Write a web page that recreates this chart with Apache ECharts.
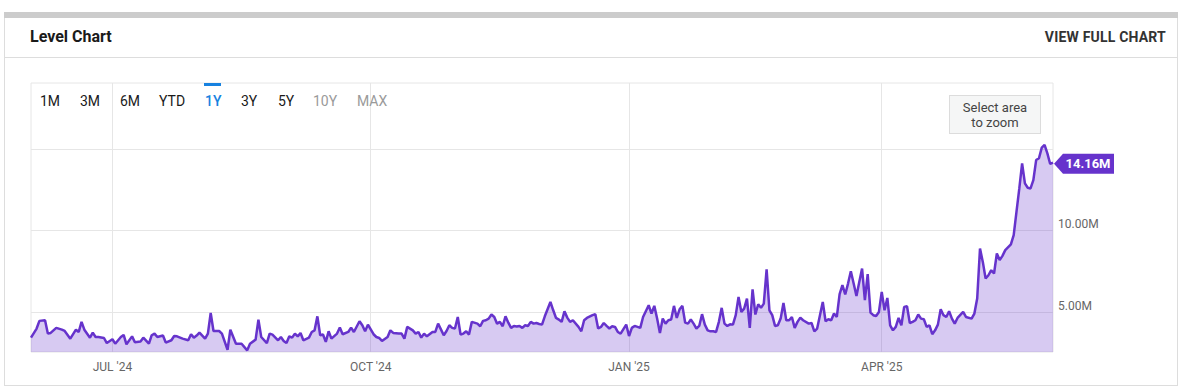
<!DOCTYPE html>
<html>
<head>
<meta charset="utf-8">
<script src="https://cdn.jsdelivr.net/npm/echarts@6/dist/echarts.min.js"></script>
<style>
html,body{margin:0;padding:0;background:#fff;}
body{width:1182px;height:387px;position:relative;overflow:hidden;font-family:Roboto,"DejaVu Sans",sans-serif;}
#chart{position:absolute;left:0;top:0;width:1182px;height:387px;z-index:1;}
.topbar{position:absolute;left:4px;top:12px;width:1174px;height:6px;background:#cccccc;z-index:2;}
.card{position:absolute;left:4px;top:18px;width:1172px;height:367px;border:1px solid #dddddd;border-top:none;z-index:0;}
.divider{position:absolute;left:4px;top:57px;width:1174px;height:1px;background:#dddddd;z-index:2;}
.title{position:absolute;left:30px;top:27px;font-size:16px;font-weight:700;color:#1a1a1a;line-height:20px;z-index:2;}
.viewfull{position:absolute;right:16px;top:28px;font-size:14px;font-weight:700;color:#333;line-height:18px;z-index:2;letter-spacing:0.2px;}
.rng{position:absolute;top:92px;font-size:14px;line-height:18px;color:#1a1a1a;z-index:2;}
.rng.sel{color:#1782e0;font-weight:500;}
.rng.dis{color:#9a9a9a;}
.selbar{position:absolute;left:204px;top:83px;width:17px;height:3px;background:#1782e0;z-index:2;}
.zoombox{position:absolute;left:949px;top:95px;width:90px;background:#f5f6f6;border:1px solid #dcdcdc;z-index:2;
  font-size:13px;line-height:15px;color:#444;text-align:center;padding-top:4px;box-sizing:content-box;height:33px;}
</style>
</head>
<body>
<div class="topbar"></div>
<div class="card"></div>
<div class="title">Level Chart</div>
<div class="viewfull">VIEW FULL CHART</div>
<div class="divider"></div>
<div id="chart"></div>
<div class="selbar"></div>
<span class="rng" style="left:40px">1M</span>
<span class="rng" style="left:80px">3M</span>
<span class="rng" style="left:120px">6M</span>
<span class="rng" style="left:159px">YTD</span>
<span class="rng sel" style="left:205px">1Y</span>
<span class="rng" style="left:241px">3Y</span>
<span class="rng" style="left:278px">5Y</span>
<span class="rng dis" style="left:313px">10Y</span>
<span class="rng dis" style="left:357px">MAX</span>
<div class="zoombox">Select area<br>to zoom</div>
<script>
// ---- data (values in millions) ----
const dates = [
"2024-06-02","2024-06-04","2024-06-05","2024-06-07","2024-06-08","2024-06-09","2024-06-11","2024-06-13","2024-06-14","2024-06-16",
"2024-06-18","2024-06-19","2024-06-20","2024-06-21","2024-06-23","2024-06-24","2024-06-25","2024-06-26","2024-06-28","2024-06-29",
"2024-07-01","2024-07-02","2024-07-04","2024-07-05","2024-07-06","2024-07-08","2024-07-09","2024-07-11","2024-07-12","2024-07-14",
"2024-07-15","2024-07-16","2024-07-17","2024-07-19","2024-07-20","2024-07-22","2024-07-23","2024-07-24","2024-07-26","2024-07-28",
"2024-07-29","2024-07-30","2024-07-31","2024-08-01","2024-08-03","2024-08-04","2024-08-05","2024-08-06","2024-08-08","2024-08-09",
"2024-08-11","2024-08-12","2024-08-14","2024-08-16","2024-08-18","2024-08-19","2024-08-21","2024-08-22","2024-08-23","2024-08-25",
"2024-08-26","2024-08-27","2024-08-29","2024-08-30","2024-08-31","2024-09-01","2024-09-02","2024-09-03","2024-09-04","2024-09-05",
"2024-09-06","2024-09-07","2024-09-09","2024-09-10","2024-09-11","2024-09-12","2024-09-13","2024-09-14","2024-09-15","2024-09-16",
"2024-09-17","2024-09-19","2024-09-20","2024-09-21","2024-09-23","2024-09-24","2024-09-25","2024-09-27","2024-09-28","2024-09-29",
"2024-09-30","2024-10-02","2024-10-03","2024-10-04","2024-10-05","2024-10-07","2024-10-08","2024-10-09","2024-10-11","2024-10-12",
"2024-10-13","2024-10-14","2024-10-16","2024-10-17","2024-10-18","2024-10-19","2024-10-20","2024-10-21","2024-10-23","2024-10-24",
"2024-10-25","2024-10-26","2024-10-27","2024-10-28","2024-10-29","2024-10-30","2024-10-31","2024-11-01","2024-11-02","2024-11-03",
"2024-11-04","2024-11-05","2024-11-06","2024-11-08","2024-11-09","2024-11-10","2024-11-11","2024-11-12","2024-11-13","2024-11-14",
"2024-11-15","2024-11-16","2024-11-17","2024-11-18","2024-11-19","2024-11-20","2024-11-21","2024-11-22","2024-11-23","2024-11-24",
"2024-11-25","2024-11-26","2024-11-27","2024-11-28","2024-11-29","2024-11-30","2024-12-01","2024-12-02","2024-12-04","2024-12-05",
"2024-12-06","2024-12-07","2024-12-08","2024-12-09","2024-12-10","2024-12-11","2024-12-12","2024-12-14","2024-12-15","2024-12-16",
"2024-12-17","2024-12-19","2024-12-20","2024-12-21","2024-12-22","2024-12-23","2024-12-24","2024-12-25","2024-12-26","2024-12-27",
"2024-12-28","2024-12-29","2024-12-31","2025-01-01","2025-01-02","2025-01-03","2025-01-05","2025-01-06","2025-01-08","2025-01-09",
"2025-01-10","2025-01-11","2025-01-12","2025-01-13","2025-01-14","2025-01-15","2025-01-16","2025-01-17","2025-01-18","2025-01-19",
"2025-01-20","2025-01-21","2025-01-22","2025-01-23","2025-01-24","2025-01-25","2025-01-26","2025-01-27","2025-01-28","2025-01-29",
"2025-01-30","2025-01-31","2025-02-01","2025-02-02","2025-02-03","2025-02-04","2025-02-05","2025-02-06","2025-02-07","2025-02-08",
"2025-02-09","2025-02-10","2025-02-11","2025-02-12","2025-02-13","2025-02-14","2025-02-15","2025-02-16","2025-02-17","2025-02-18",
"2025-02-19","2025-02-20","2025-02-21","2025-02-22","2025-02-23","2025-02-24","2025-02-25","2025-02-26","2025-02-27","2025-02-28",
"2025-03-01","2025-03-02","2025-03-03","2025-03-04","2025-03-06","2025-03-07","2025-03-08","2025-03-09","2025-03-10","2025-03-11",
"2025-03-12","2025-03-13","2025-03-14","2025-03-15","2025-03-16","2025-03-17","2025-03-18","2025-03-19","2025-03-20","2025-03-21",
"2025-03-22","2025-03-23","2025-03-24","2025-03-25","2025-03-26","2025-03-27","2025-03-28","2025-03-29","2025-03-30","2025-03-31",
"2025-04-01","2025-04-02","2025-04-03","2025-04-04","2025-04-05","2025-04-06","2025-04-07","2025-04-08","2025-04-09","2025-04-10",
"2025-04-11","2025-04-12","2025-04-13","2025-04-14","2025-04-15","2025-04-16","2025-04-17","2025-04-18","2025-04-19","2025-04-20",
"2025-04-21","2025-04-22","2025-04-23","2025-04-24","2025-04-25","2025-04-26","2025-04-27","2025-04-28","2025-04-30","2025-05-01",
"2025-05-03","2025-05-04","2025-05-05","2025-05-06","2025-05-07","2025-05-08","2025-05-09","2025-05-10","2025-05-11","2025-05-12",
"2025-05-13","2025-05-14","2025-05-15","2025-05-17","2025-05-18","2025-05-19","2025-05-20","2025-05-21","2025-05-22","2025-05-23",
"2025-05-24","2025-05-25","2025-05-26","2025-05-27","2025-05-28","2025-05-29","2025-05-30","2025-05-31","2025-06-01"
];
const levelMillions = [
3.42,3.98,4.45,4.49,3.67,3.71,4.02,3.91,3.83,3.36,
3.91,3.77,4.39,3.91,3.42,3.73,3.46,3.46,3.40,3.09,
3.32,3.05,3.46,3.59,3.01,3.50,3.14,3.18,3.42,3.05,
3.57,3.67,3.46,3.55,3.12,3.26,3.52,3.50,3.36,3.26,
3.63,3.42,3.55,3.73,3.36,3.67,4.94,3.83,3.83,3.67,
2.68,3.91,3.05,3.05,2.64,3.05,3.30,4.53,3.46,3.09,
3.67,3.61,3.26,3.46,3.22,3.09,3.50,3.42,3.67,3.50,
3.71,3.26,3.42,3.77,3.87,4.73,3.57,3.61,3.16,3.81,
3.36,3.67,4.04,3.63,3.77,4.04,3.77,4.43,4.18,3.81,
4.22,3.63,3.46,3.40,3.22,3.46,3.87,3.71,3.67,3.67,
3.36,4.08,3.87,3.67,3.77,3.42,3.67,3.50,3.77,3.77,
4.28,3.93,3.57,3.83,4.18,4.02,3.98,4.69,3.61,3.67,
3.81,3.61,4.39,4.28,4.12,4.45,4.49,4.59,4.84,4.69,
4.28,4.39,4.12,4.73,4.34,4.02,4.14,4.10,4.14,4.02,
4.18,4.14,4.39,4.28,4.32,4.26,4.22,4.73,5.61,5.10,
4.63,4.53,4.39,5.04,4.65,4.39,4.49,4.08,3.81,4.49,
4.63,4.80,4.86,3.98,4.08,4.32,4.14,3.98,4.12,4.08,
3.77,3.67,4.22,3.52,4.02,4.14,4.02,4.69,5.41,4.90,
5.37,4.59,3.71,4.59,4.28,4.49,4.53,5.37,4.63,5.16,
5.37,4.34,4.28,4.53,4.28,3.98,4.14,4.86,4.22,3.87,
3.81,3.81,3.77,4.39,5.25,4.28,4.14,4.24,4.22,4.80,
5.92,5.00,5.20,5.82,4.02,6.39,4.84,5.47,5.25,5.51,
7.62,5.10,4.80,4.14,4.18,4.59,5.55,4.49,4.49,4.69,
4.02,4.39,4.65,4.49,4.28,4.32,3.81,3.98,4.80,5.61,
4.43,4.55,4.49,4.90,4.69,6.09,6.64,6.07,6.74,7.50,
6.74,5.98,6.84,7.66,5.72,7.32,4.96,4.80,4.75,5.00,
6.23,5.10,5.86,4.18,3.87,4.08,4.63,4.18,5.31,5.35,
4.32,4.39,4.49,4.84,4.59,4.55,4.08,4.18,3.63,3.87,
4.22,5.16,4.80,4.69,5.04,4.59,4.28,4.63,5.00,4.69,
4.59,4.90,5.82,8.89,8.07,7.05,7.25,7.56,7.36,8.59,
8.18,8.44,8.79,9.14,9.71,11.15,12.58,14.12,12.89,12.62,
12.58,13.09,14.32,14.43,15.08,15.25,14.73,14.08,14.16
];
const xTickDates = ["2024-07-01","2024-10-01","2025-01-01","2025-04-01"];
const xTickLabels = ["JUL '24","OCT '24","JAN '25","APR '25"];
const yGridValues = [5, 10, 15];
const yLabelValues = [5, 10];
const yMin = 2.54, yMax = 19.05;

// ---- chart ----
function toTime(s){ const p = s.split('-').map(Number); return Date.UTC(p[0], p[1]-1, p[2]); }
const seriesData = dates.map((d, i) => [toTime(d), levelMillions[i]]);
const xTickTimes = xTickDates.map(toTime);
const last = seriesData[seriesData.length - 1];
const lineColor = '#6633cc';

const chart = echarts.init(document.getElementById('chart'), null, {renderer: 'svg'});
chart.setOption({
  animation: false,
  grid: {left: 31, right: 129, top: 83, bottom: 35, show: true, borderColor: '#e6e6e6', borderWidth: 1, backgroundColor: 'transparent'},
  xAxis: {
    type: 'value',
    min: seriesData[0][0],
    max: last[0],
    axisLine: {show: false},
    axisTick: {show: false, customValues: xTickTimes},
    axisLabel: {
      customValues: xTickTimes,
      color: '#666', fontSize: 12, fontFamily: 'Roboto', margin: 9,
      formatter: v => { const i = xTickTimes.indexOf(v); return i >= 0 ? xTickLabels[i] : ''; }
    },
    splitLine: {show: true, customValues: xTickTimes, lineStyle: {color: '#e6e6e6', width: 1}}
  },
  yAxis: {
    type: 'value',
    position: 'right',
    min: yMin, max: yMax,
    axisLine: {show: false},
    axisTick: {show: false, customValues: yGridValues},
    axisLabel: {
      customValues: yLabelValues,
      color: '#666', fontSize: 12, fontFamily: 'Roboto', margin: 5, verticalAlign: 'bottom',
      formatter: v => v.toFixed(2) + 'M'
    },
    splitLine: {show: true, customValues: yGridValues, lineStyle: {color: '#e6e6e6', width: 1}}
  },
  series: [{
    type: 'line',
    data: seriesData,
    showSymbol: false,
    symbol: 'none',
    lineStyle: {width: 2.5, color: lineColor},
    itemStyle: {color: lineColor},
    areaStyle: {color: lineColor, opacity: 0.26},
    markPoint: {
      silent: true,
      symbol: 'path://M0,10 L9,0 L60,0 L60,20 L9,20 Z',
      symbolSize: [60, 20],
      symbolOffset: [31, 1],
      itemStyle: {color: lineColor},
      label: {
        show: true, position: 'inside', offset: [4, 0],
        color: '#fff', fontWeight: 'bold', fontSize: 13, fontFamily: 'Roboto',
        formatter: p => p.value.toFixed(2) + 'M'
      },
      data: [{coord: last, value: last[1]}]
    }
  }]
});
</script>
</body>
</html>
